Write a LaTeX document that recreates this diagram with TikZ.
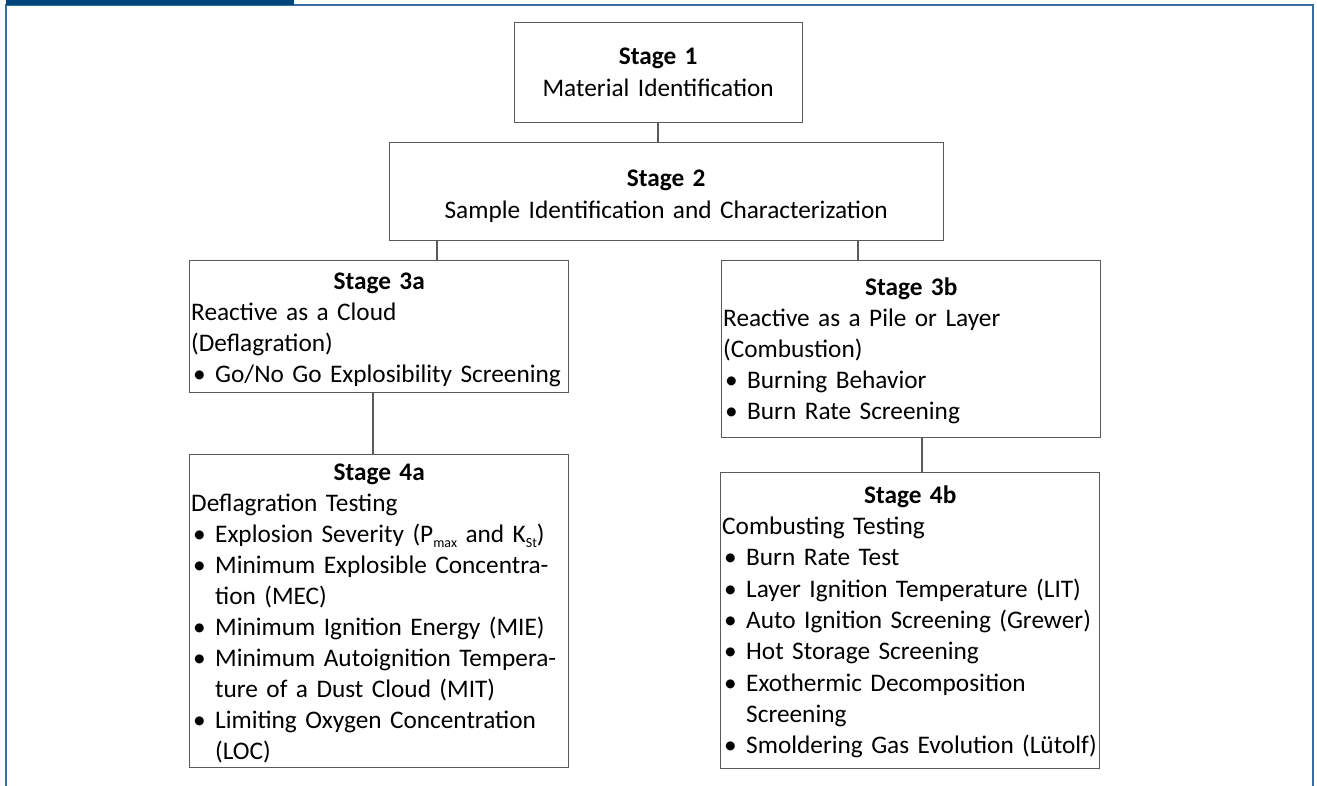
\documentclass[tikz,border=0pt]{standalone}
\usepackage{fontspec}
\setmainfont{Carlito}[WordSpace=0.85]
\definecolor{framedark}{HTML}{00467A}
\definecolor{frameline}{HTML}{3A6D9E}
\definecolor{boxline}{HTML}{5A5A5A}
\newcommand\blt[1]{\par\hangindent=24pt\hangafter=1\noindent\makebox[24pt][l]{\hspace{2pt}\textbullet}#1}
\newcommand\brk{\hfil\break}
\newcommand\subtx[1]{\raisebox{-5pt}{\fontsize{14}{14}\selectfont #1}}
\newcommand\firstline{\rule{0pt}{21pt}}
\begin{document}
\begin{tikzpicture}[x=1pt,y=-1pt,
  stagebox/.style={draw=boxline, line width=1.3pt, anchor=north west, inner sep=0pt},
  stagetext/.style={anchor=north west, inner sep=0pt, text width=#1, font=\fontsize{25.3}{31}\selectfont},
  link/.style={draw=boxline, line width=1.3pt}]
\useasboundingbox (0,0) rectangle (1317,786);
\fill[white] (0,0) rectangle (1317,786);
% frame
\draw[frameline, line width=1.6pt] (6,5) -- (1313,5);
\draw[frameline, line width=2pt] (6,4) -- (6,786);
\draw[frameline, line width=2pt] (1313,4) -- (1313,786);
\fill[framedark] (6,0) rectangle (294,5.5);

% boxes
\node[stagebox, minimum width=288pt, minimum height=100pt] (s1) at (514,22) {};
\node[stagebox, minimum width=554pt, minimum height=98pt] (s2) at (389,142) {};
\node[stagebox, minimum width=379pt, minimum height=132pt] (s3a) at (189,260) {};
\node[stagebox, minimum width=379pt, minimum height=313pt] (s4a) at (189,454) {};
\node[stagebox, minimum width=379pt, minimum height=177pt] (s3b) at (721,260) {};
\node[stagebox, minimum width=379pt, minimum height=296pt] (s4b) at (720,472) {};

% texts
\node[stagetext=288pt, font=\fontsize{25.3}{32}\selectfont] (t1) at (514,43)
  {\centering\firstline\textbf{Stage 1}\par Material Identification\par};
\node[stagetext=554pt, font=\fontsize{25.3}{32}\selectfont] (t2) at (389,165)
  {\centering\firstline\textbf{Stage 2}\par Sample Identification and Characterization\par};
\node[stagetext=376pt] (t3a) at (191,268)
  {{\centering\firstline\textbf{Stage 3a}\par}\raggedright\noindent Reactive as a Cloud\par\noindent (Deflagration)
   \blt{Go/No Go Explosibility Screening}\par};
\node[stagetext=376pt] (t4a) at (191,459)
  {{\centering\firstline\textbf{Stage 4a}\par}\raggedright\noindent Deflagration Testing
   \blt{Explosion Severity (P\subtx{max} and K\subtx{St})}
   \blt{Minimum Explosible Concentra-\brk tion (MEC)}
   \blt{Minimum Ignition Energy (MIE)}
   \blt{Minimum Autoignition Tempera-\brk ture of a Dust Cloud (MIT)}
   \blt{Limiting Oxygen Concentration\brk (LOC)}\par};
\node[stagetext=376pt] (t3b) at (723,274)
  {{\centering\firstline\textbf{Stage 3b}\par}\raggedright\noindent Reactive as a Pile or Layer\par\noindent (Combustion)
   \blt{Burning Behavior}
   \blt{Burn Rate Screening}\par};
\node[stagetext=376pt, font=\fontsize{25.3}{31.3}\selectfont] (t4b) at (722,482)
  {{\centering\firstline\textbf{Stage 4b}\par}\raggedright\noindent Combusting Testing
   \blt{Burn Rate Test}
   \blt{Layer Ignition Temperature (LIT)}
   \blt{Auto Ignition Screening (Grewer)}
   \blt{Hot Storage Screening}
   \blt{Exothermic Decomposition\brk Screening}
   \blt{\mbox{Smoldering Gas Evolution (Lütolf)}}\par};

% connectors
\coordinate (x1) at (658,0);
\coordinate (x2a) at (437,0);
\coordinate (x2b) at (858,0);
\coordinate (x3a) at (373,0);
\coordinate (x3b) at (922,0);
\draw[link] (s1.south -| x1) -- (s2.north -| x1);
\draw[link] (s2.south -| x2a) -- (s3a.north -| x2a);
\draw[link] (s2.south -| x2b) -- (s3b.north -| x2b);
\draw[link] (s3a.south -| x3a) -- (s4a.north -| x3a);
\draw[link] (s3b.south -| x3b) -- (s4b.north -| x3b);
\end{tikzpicture}
\end{document}
